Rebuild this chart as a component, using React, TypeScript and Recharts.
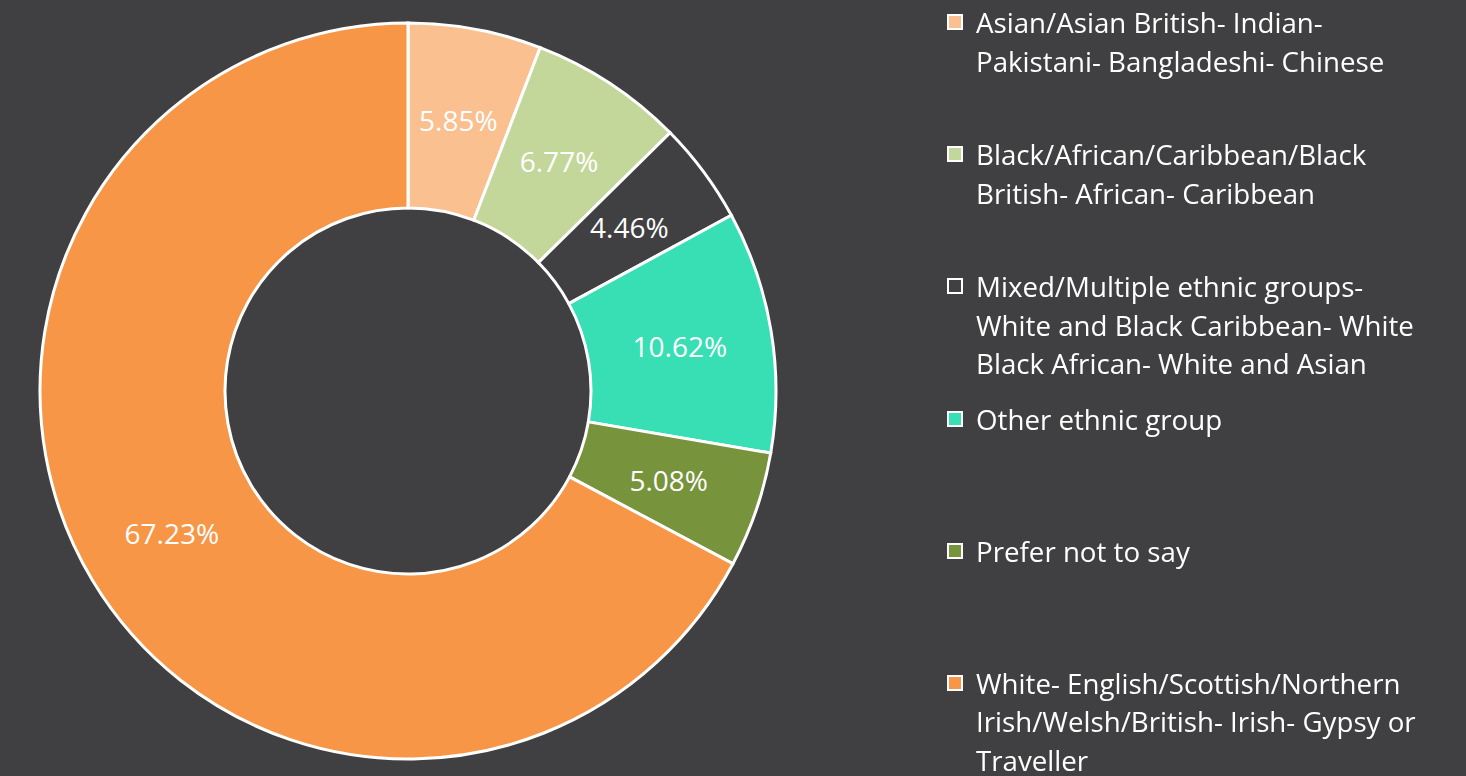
import { Legend, Pie, PieChart } from "recharts";

const categories = [
  "Asian/Asian British- Indian- Pakistani- Bangladeshi- Chinese",
  "Black/African/Caribbean/Black British- African- Caribbean",
  "Mixed/Multiple ethnic groups- White and Black Caribbean- White Black African- White and Asian",
  "Other ethnic group",
  "Prefer not to say",
  "White- English/Scottish/Northern Irish/Welsh/British- Irish- Gypsy or Traveller"
];

// legend text as it wraps in the original
const legendLines = [
  ["Asian/Asian British- Indian-", "Pakistani- Bangladeshi- Chinese"],
  ["Black/African/Caribbean/Black", "British- African- Caribbean"],
  ["Mixed/Multiple ethnic groups-", "White and Black Caribbean- White", "Black African- White and Asian"],
  ["Other ethnic group"],
  ["Prefer not to say"],
  ["White- English/Scottish/Northern", "Irish/Welsh/British- Irish- Gypsy or", "Traveller"]
];

const shares = [5.85, 6.77, 4.46, 10.62, 5.08, 67.23];

const colors = ["#FAC090", "#C4D79B", "#404042", "#38DEB4", "#77933C", "#F79646"];

const BG = "#404042";
const FONT = "'Open Sans', sans-serif";

const data = categories.map((name, i) => ({ name, value: shares[i], fill: colors[i] }));

const RADIAN = Math.PI / 180;

function renderLabel(props: any) {
  const { cx, cy, midAngle, innerRadius, outerRadius, value } = props;
  const r = (innerRadius + outerRadius) / 2;
  const x = cx + r * Math.cos(-midAngle * RADIAN);
  const y = cy + r * Math.sin(-midAngle * RADIAN);
  return (
    <text
      x={x}
      y={y}
      fill="#fff"
      fontSize={28}
      fontFamily={FONT}
      textAnchor="middle"
      dominantBaseline="central"
    >
      {`${Number(value).toFixed(2)}%`}
    </text>
  );
}

function LegendBox() {
  return (
    <div style={{ fontFamily: FONT, color: "#fff", fontSize: 27.7 }}>
      {legendLines.map((lines, i) => (
        <div key={categories[i]} style={{ height: 132.2, display: "flex", alignItems: "flex-start" }}>
          <span
            style={{
              width: 12,
              height: 12,
              marginTop: 11,
              marginRight: 13,
              border: "2px solid #fff",
              background: colors[i],
              flexShrink: 0
            }}
          />
          <div style={{ lineHeight: "38.5px" }}>
            {lines.map((l) => (
              <div key={l} style={{ whiteSpace: "nowrap" }}>{l}</div>
            ))}
          </div>
        </div>
      ))}
    </div>
  );
}

export default function App() {
  return (
    <div style={{ position: "fixed", left: 0, top: 0, width: 1466, height: 776, background: BG }}>
      <PieChart width={1466} height={776} margin={{ top: 0, right: 0, bottom: 0, left: 0 }}>
        <Pie
          data={data}
          dataKey="value"
          nameKey="name"
          cx={408}
          cy={391}
          innerRadius={183}
          outerRadius={368}
          startAngle={90}
          endAngle={-270}
          stroke="#fff"
          strokeWidth={3}
          label={renderLabel}
          labelLine={false}
          isAnimationActive={false}
        />
        <Legend
          layout="vertical"
          align="right"
          verticalAlign="top"
          content={() => <LegendBox />}
          wrapperStyle={{ position: "absolute", left: 947, top: 3, width: 519 }}
        />
      </PieChart>
    </div>
  );
}
